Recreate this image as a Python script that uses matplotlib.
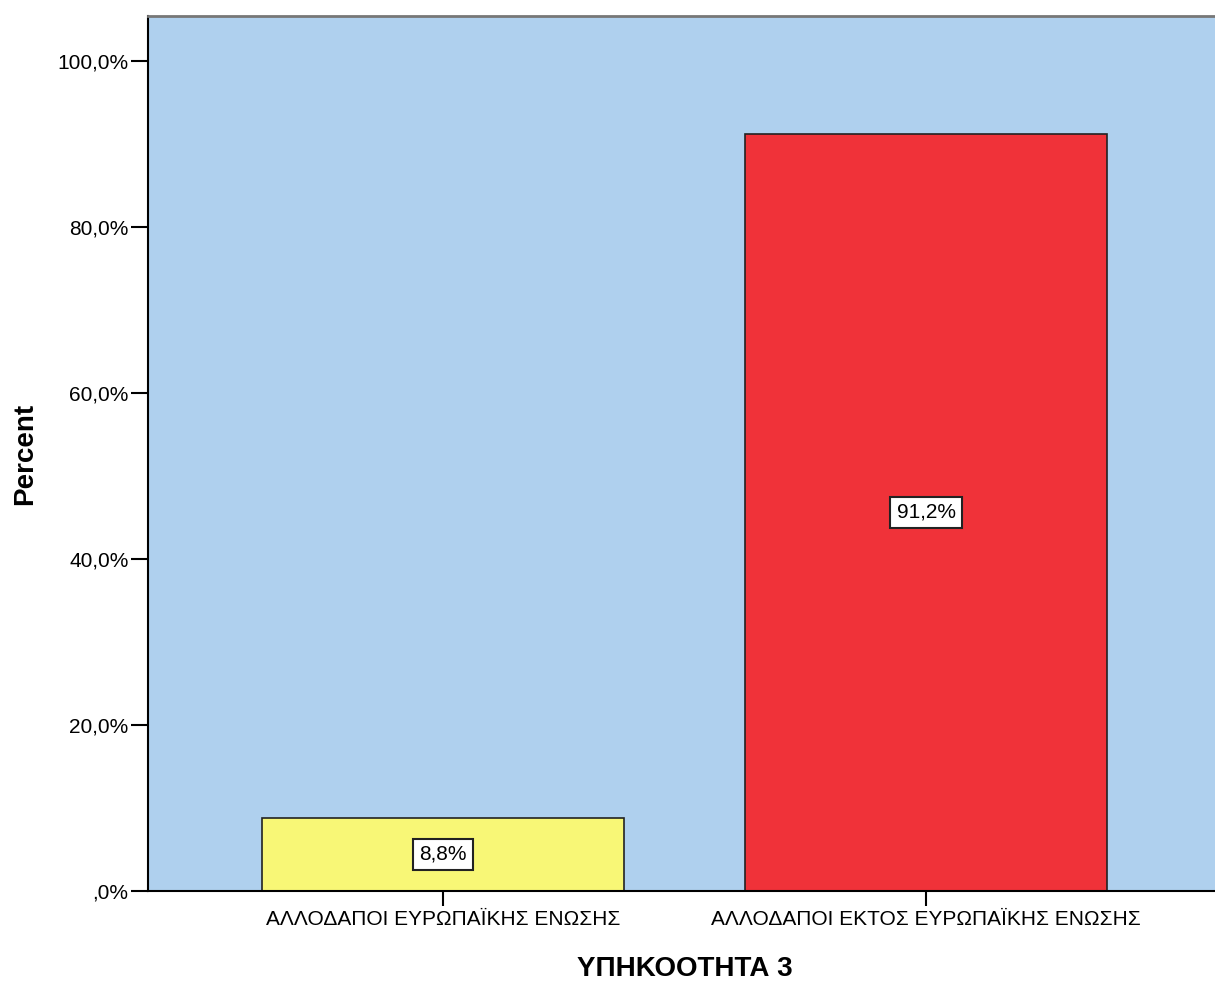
import matplotlib.pyplot as plt
from matplotlib.ticker import FuncFormatter

categories = ['ΑΛΛΟΔΑΠΟΙ ΕΥΡΩΠΑΪΚΗΣ ΕΝΩΣΗΣ', 'ΑΛΛΟΔΑΠΟΙ ΕΚΤΟΣ ΕΥΡΩΠΑΪΚΗΣ ΕΝΩΣΗΣ']
percents = [8.8, 91.2]
bar_colors = ['#F8F776', '#F03239']
yticks = [0, 20, 40, 60, 80, 100]

plt.rcParams['font.family'] = ['Liberation Sans', 'DejaVu Sans']

fig = plt.figure(figsize=(12.15, 9.81), dpi=100)
ax = fig.add_axes([148/1215, 1 - 891/981, 1 - 148/1215, (891 - 16)/981])
ax.set_facecolor('#AFD0EE')

x = list(range(len(categories)))
ax.bar(x, percents, width=0.75, color=bar_colors, edgecolor='#222222', linewidth=1.2, zorder=2)

for xi, v in zip(x, percents):
    label = f'{v:.1f}%'.replace('.', ',')
    ax.text(xi, v / 2, label, ha='center', va='center', fontsize=15, zorder=3,
            bbox=dict(boxstyle='square,pad=0.3', facecolor='white', edgecolor='#222222', linewidth=1.5))

ax.set_xlim(-0.611, 1.598)
ax.set_ylim(0, 105.4)
ax.set_xticks(x)
ax.set_xticklabels(categories, fontsize=15)
ax.set_yticks(yticks)

def fmt(v, pos):
    s = f'{v:.1f}%'.replace('.', ',')
    return s[1:] if s.startswith('0,') else s

ax.yaxis.set_major_formatter(FuncFormatter(fmt))
ax.tick_params(axis='y', length=12, width=1.5, labelsize=15, pad=2)
ax.tick_params(axis='x', length=11, width=1.5, pad=3)

ax.spines['left'].set_linewidth(1.5)
ax.spines['bottom'].set_linewidth(1.5)
ax.spines['top'].set_color('#777777')
ax.spines['top'].set_linewidth(2)
ax.spines['right'].set_visible(False)

ax.set_ylabel('Percent', fontsize=20, fontweight='bold', va='center')
ax.yaxis.set_label_coords((25 - 148) / 1067, 0.5)
ax.set_xlabel('ΥΠΗΚΟΟΤΗΤΑ 3', fontsize=20, fontweight='bold', va='center')
ax.xaxis.set_label_coords((685 - 148) / 1067, (891 - 969) / 875)

fig.savefig('out.png', dpi=100)
